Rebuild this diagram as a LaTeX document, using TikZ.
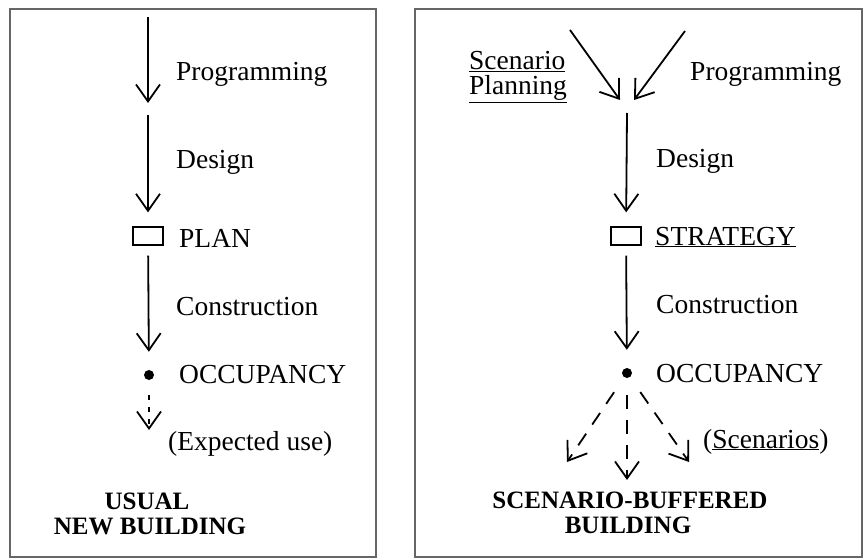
\documentclass[tikz,border=0pt]{standalone}
\usepackage{fontspec}
\setmainfont{Liberation Serif}
\usetikzlibrary{arrows.meta}
\begin{document}
\begin{tikzpicture}[x=1pt,y=-1pt,
  arr/.style={line width=1.8pt, -{Straight Barb[length=17pt,width=24pt,line width=1.8pt]}},
  darr/.style={arr, dash pattern=on 14pt off 11pt},
  lbl/.style={inner sep=0pt, anchor=base west, font=\fontsize{27.5}{30}\selectfont},
  ttl/.style={inner sep=0pt, anchor=base, font=\fontsize{25}{27}\selectfont\bfseries},
  frame/.style={draw=black!60, line width=1.3pt},
  box/.style={draw, line width=1.3pt, minimum width=30pt, minimum height=18pt, inner sep=0pt},
  dotnode/.style={circle, fill, inner sep=0pt, minimum size=10pt}]
\useasboundingbox (0,0) rectangle (864,559);
\fill[white] (0,0) rectangle (864,559);
\draw[frame] (10,9) rectangle (376,557);
\draw[frame] (415,9) rectangle (862,557);
% left panel
\coordinate (L0) at (148,17);
\coordinate (L1) at (148,103);
\coordinate (L2) at (148,115);
\node[box] (Lbox) at (148,236) {};
\node[dotnode] (Ldot) at (149,375) {};
\coordinate (Lend) at (149,430);
\draw[arr] (L0) -- (L1);
\draw[arr, shorten >=14pt] (L2) -- (Lbox);
\draw[arr, shorten <=10pt, shorten >=18pt] (Lbox) -- (Ldot);
\draw[arr, dash pattern=on 5pt off 7pt, shorten <=15pt] (Ldot) -- (Lend);
\node[lbl] (Lprog) at (176,81) {Programming};
\node[lbl] (Ldes) at (176,168) {Design};
\node[lbl] (Lplan) at (179,247) {PLAN};
\node[lbl] (Lcon) at (176,315) {Construction};
\node[lbl] (Locc) at (179,383) {OCCUPANCY};
\node[lbl] (Lexp) at (168,450) {(Expected use)};
\node[ttl] (Lt1) at (147,509) {USUAL};
\node[ttl] (Lt2) at (150,534) {NEW BUILDING};
% right panel
\coordinate (S0) at (570,30);
\coordinate (S1) at (620,100);
\coordinate (P0) at (685,31);
\coordinate (P1) at (634,100);
\coordinate (R2) at (627,113);
\node[box] (Rbox) at (626,236) {};
\node[dotnode] (Rdot) at (627,373) {};
\coordinate (D1) at (567,462);
\coordinate (D2) at (627,480);
\coordinate (D3) at (689,462);
\draw[arr] (S0) -- (S1);
\draw[arr] (P0) -- (P1);
\draw[arr, shorten >=14pt] (R2) -- (Rbox);
\draw[arr, shorten <=10pt, shorten >=18pt] (Rbox) -- (Rdot);
\draw[darr, shorten <=18pt] (Rdot) -- (D1);
\draw[darr, shorten <=17pt] (Rdot) -- (D2);
\draw[darr, shorten <=18pt] (Rdot) -- (D3);
\node[lbl] (Rscen) at (469,70) {\underline{Scenario}};
\node[lbl] (Rplan) at (469,95) {\underline{Planning}};
\node[lbl] (Rprog) at (690,81) {Programming};
\node[lbl] (Rdes) at (656,167) {Design};
\node[lbl] (Rstr) at (655,245) {\underline{STRATEGY}};
\node[lbl] (Rcon) at (656,313) {Construction};
\node[lbl] (Rocc) at (656,382) {OCCUPANCY};
\node[lbl] (Rscn) at (703,448) {(\underline{Scenarios})};
\node[ttl] (Rt1) at (630,508) {SCENARIO-BUFFERED};
\node[ttl] (Rt2) at (628,533) {BUILDING};
\end{tikzpicture}
\end{document}
